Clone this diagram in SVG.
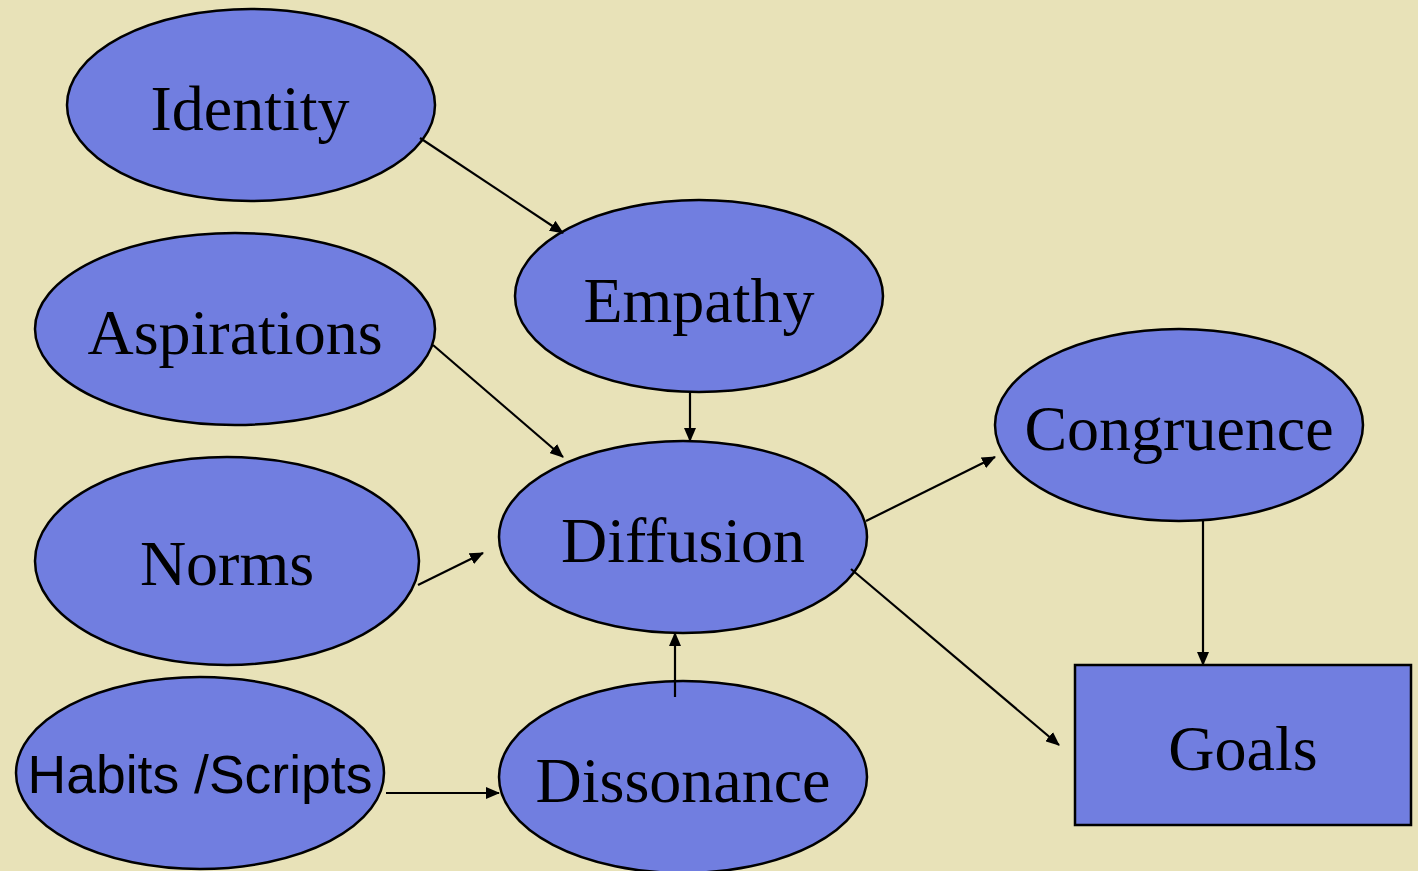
<svg xmlns="http://www.w3.org/2000/svg" width="1418" height="871" viewBox="0 0 1418 871">
<style>
.n{fill:#717EE0;stroke:#000;stroke-width:2.5}
.t{font-family:"Liberation Serif","Times New Roman",serif;font-size:64px;fill:#000;text-anchor:middle}
.s{font-family:"Liberation Sans",Arial,sans-serif;font-size:53.5px;fill:#000;text-anchor:middle}
.c line{stroke:#000;stroke-width:2.2;fill:none}
</style>
<defs>
<marker id="a" markerUnits="userSpaceOnUse" markerWidth="14" markerHeight="12" viewBox="0 0 14 12" refX="13" refY="6" orient="auto">
<path d="M0,0L14,6L0,12z" fill="#000"/>
</marker>
</defs>
<rect width="1418" height="871" fill="#E8E2B8"/>
<g id="identity"><ellipse class="n" cx="251" cy="105" rx="184" ry="96"/><text class="t" x="250" y="130">Identity</text></g>
<g id="empathy"><ellipse class="n" cx="699" cy="296" rx="184" ry="96"/><text class="t" x="699" y="322">Empathy</text></g>
<g id="aspirations"><ellipse class="n" cx="235" cy="329" rx="200" ry="96"/><text class="t" x="235" y="354">Aspirations</text></g>
<g id="diffusion"><ellipse class="n" cx="683" cy="537" rx="184" ry="96"/><text class="t" x="683" y="562">Diffusion</text></g>
<g id="congruence"><ellipse class="n" cx="1179" cy="425" rx="184" ry="96"/><text class="t" x="1179" y="450">Congruence</text></g>
<g id="norms"><ellipse class="n" cx="227" cy="561" rx="192" ry="104"/><text class="t" x="227" y="585">Norms</text></g>
<g id="habits"><ellipse class="n" cx="200" cy="773" rx="184" ry="96"/><text class="s" x="200" y="793">Habits /Scripts</text></g>
<g id="dissonance"><ellipse class="n" cx="683" cy="777" rx="184" ry="96"/><text class="t" x="683" y="802">Dissonance</text></g>
<g id="goals"><rect class="n" x="1075" y="665" width="336" height="160"/><text class="t" x="1243" y="770">Goals</text></g>
<g class="c" id="connectors">
<line x1="420" y1="138" x2="563" y2="233" marker-end="url(#a)"/>
<line x1="433" y1="345" x2="563" y2="457" marker-end="url(#a)"/>
<line x1="690" y1="392" x2="690" y2="441" marker-end="url(#a)"/>
<line x1="418" y1="585" x2="483" y2="553" marker-end="url(#a)"/>
<line x1="675" y1="697" x2="675" y2="633" marker-end="url(#a)"/>
<line x1="386" y1="793" x2="499" y2="793" marker-end="url(#a)"/>
<line x1="866" y1="521" x2="995" y2="457" marker-end="url(#a)"/>
<line x1="851" y1="569" x2="1059" y2="745" marker-end="url(#a)"/>
<line x1="1203" y1="521" x2="1203" y2="665" marker-end="url(#a)"/>
</g>
</svg>
